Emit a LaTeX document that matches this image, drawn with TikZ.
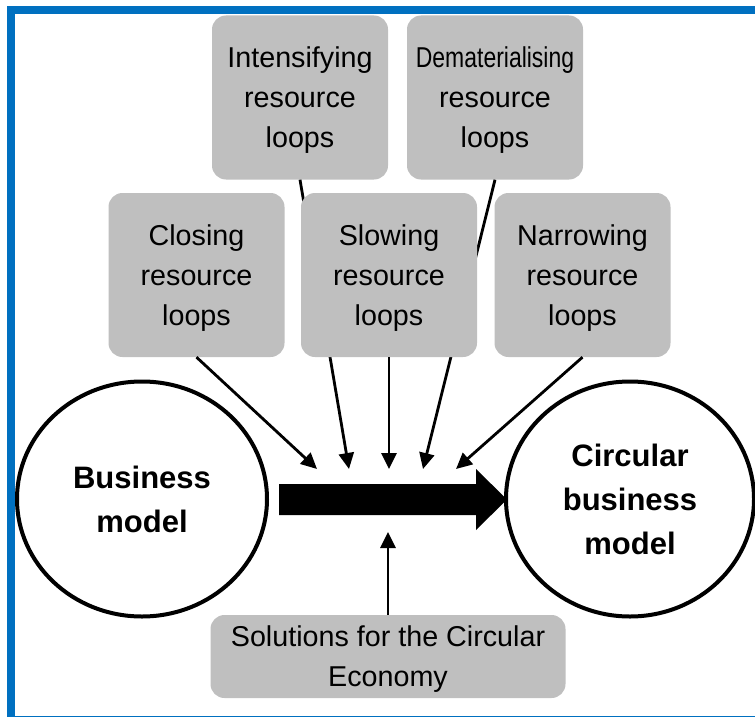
\documentclass[tikz,border=0pt]{standalone}
\usepackage{fontspec}
\setmainfont{Liberation Sans}
\newfontfamily\condfont[FakeStretch=0.8]{Liberation Sans}
\usepackage{tikz}
\usetikzlibrary{arrows.meta,shapes.geometric}
\definecolor{frameblue}{RGB}{0,112,192}
\definecolor{loopgray}{RGB}{191,191,191}

\begin{document}
\begin{tikzpicture}[x=1pt,y=-1pt,
        loopbox/.style={fill=loopgray, rounded corners=14pt, minimum width=176pt, minimum height=164pt,
            inner sep=0pt, align=center, text depth=0pt, font=\fontsize{28.7}{40}\selectfont},
        model/.style={ellipse, draw, line width=4pt, fill=white, minimum width=250pt, minimum height=235pt,
            inner sep=0pt, align=center, font=\fontsize{31}{44}\selectfont\bfseries},
        feed/.style={line width=2.8pt, -{Triangle[length=16pt,width=15pt]}}]
        \useasboundingbox (0,0) rectangle (755,717);
        \draw[frameblue, line width=8pt] (11,10) rectangle (775,720);

        \coordinate (inClose) at (317,469);
        \coordinate (inIntens) at (349,469);
        \coordinate (inSlow) at (389,469);
        \coordinate (inDematl) at (423,469);
        \coordinate (inNarrow) at (456,469);
        \coordinate (inSolut) at (388,532);

        \node[loopbox] (intens) at (300,97.5) {Intensifying\\resource\\loops};
        \node[loopbox] (dematl) at (495,97.5) {{\condfont Dematerialising}\\resource\\loops};
        \node[loopbox] (close) at (196.5,275) {Closing\\resource\\loops};
        \node[loopbox] (narrow) at (582.5,275) {Narrowing\\resource\\loops};

        % these two pass behind the slowing box
        \draw[feed] (intens.south) -- (inIntens);
        \draw[feed] (dematl.south) -- (inDematl);

        \node[loopbox] (slow) at (389,275) {Slowing\\resource\\loops};

        \draw[feed] (close.south) -- (inClose);
        \draw[feed] (slow.south) -- (inSlow);
        \draw[feed] (narrow.south) -- (inNarrow);

        \node[model] (bm) at (142,499) {Business\\model};
        \node[model, minimum width=248pt] (cbm) at (630,499) {Circular\\business\\model};

        \coordinate (flowtail) at (279,499.5);
        \coordinate (flowtip) at (507,499.5);
        \fill (flowtail) ++(0,-15.5) -- (476,484) -- (476,469) -- (flowtip)
            -- (476,530) -- (476,515) -- (279,515) -- cycle;

        \node[loopbox, minimum width=355pt, minimum height=83pt] (solut) at (388,656.5)
            {Solutions for the Circular\\Economy};
        \draw[feed] (solut.north) -- (inSolut);
    \end{tikzpicture}
\end{document}
